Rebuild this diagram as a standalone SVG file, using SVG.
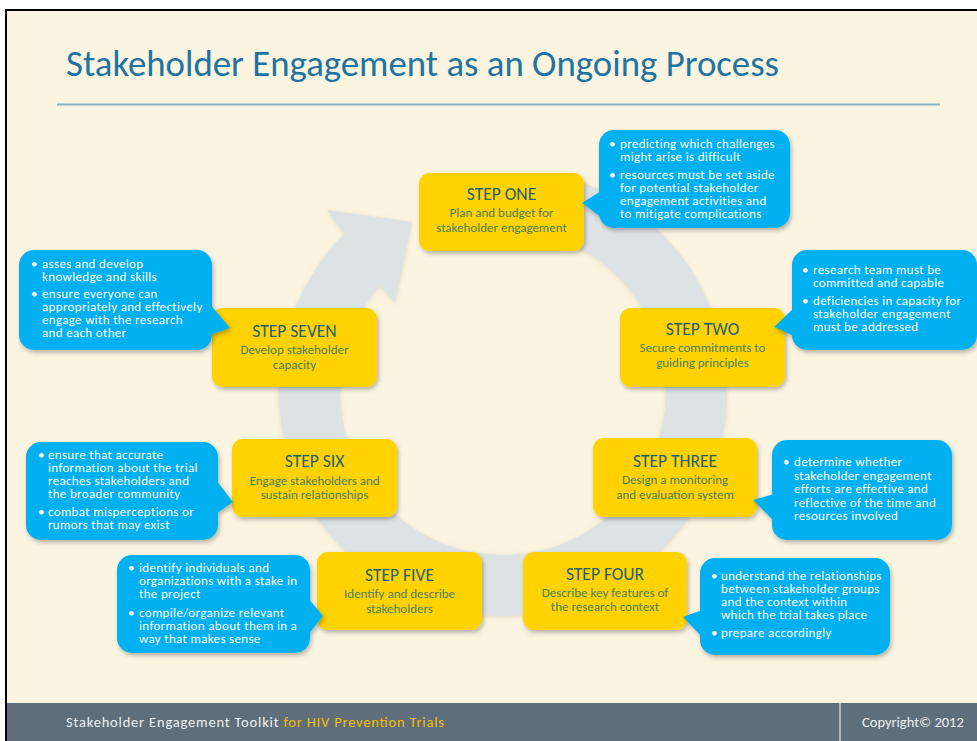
<svg xmlns="http://www.w3.org/2000/svg" width="977" height="741" viewBox="0 0 977 741">
  <defs>
    <filter id="shadow" x="-10%" y="-10%" width="125%" height="130%">
      <feDropShadow dx="1.5" dy="2.5" stdDeviation="2" flood-color="#000" flood-opacity="0.28"/>
    </filter>
    <filter id="soft" x="-10%" y="-10%" width="120%" height="120%">
      <feDropShadow dx="0" dy="1" stdDeviation="2.5" flood-color="#b9ab86" flood-opacity="0.35"/>
    </filter>
  </defs>
  <style>
    text { font-family: Carlito, Lato, "Liberation Sans", sans-serif; }
    .title { font-size: 36.8px; fill: #1f74a2; }
    .box { fill: #ffd200; }
    .step { font-size: 17.5px; fill: #25606e; text-anchor: middle; }
    .sub { font-size: 13px; fill: #4d805c; text-anchor: middle; }
    .note { fill: #00b0f0; }
    .nt { font-size: 13px; letter-spacing: 0.33px; fill: #ffffff; }
    .foot { font-size: 14.5px; fill: #eef0f2; }
    .ring { fill: #dde2e4; }
  </style>

  <!-- page and slide frame -->
  <rect x="0" y="0" width="977" height="741" fill="#ffffff"/>
  <rect x="6" y="10" width="975" height="735" fill="#faf4e1" stroke="#000" stroke-width="2"/>

  <!-- heading -->
  <text class="title" x="66" y="76">Stakeholder Engagement as an Ongoing Process</text>
  <line x1="57" y1="104.5" x2="940" y2="104.5" stroke="#8ab4c4" stroke-width="2"/>

  <!-- circular process arrow -->
  <g id="connectors">
    <path class="ring" filter="url(#soft)" d="M561,175.6 A224,224 0 1 1 344.6,233.6 L327,210 L412,222 L395,303 L380,285.1 A163,163 0 1 0 545.2,234.6 Z"/>
  </g>

  <!-- steps -->
  <g id="step-one">
    <rect class="box" x="419" y="173" width="165" height="78" rx="11" filter="url(#shadow)"/>
    <text class="step" x="501.5" y="200">STEP ONE</text>
    <text class="sub" x="501.5" y="216.5">Plan and budget for</text>
    <text class="sub" x="501.5" y="231.5">stakeholder engagement</text>
  </g>
  <g id="step-two">
    <rect class="box" x="620" y="308" width="165" height="79" rx="11" filter="url(#shadow)"/>
    <text class="step" x="702.5" y="334.5">STEP TWO</text>
    <text class="sub" x="702.5" y="352">Secure commitments to</text>
    <text class="sub" x="702.5" y="367">guiding principles</text>
  </g>
  <g id="step-three">
    <rect class="box" x="593" y="438" width="164" height="79" rx="11" filter="url(#shadow)"/>
    <text class="step" x="675" y="466.5">STEP THREE</text>
    <text class="sub" x="675" y="484">Design a monitoring</text>
    <text class="sub" x="675" y="498.5">and evaluation system</text>
  </g>
  <g id="step-four">
    <rect class="box" x="523" y="552" width="164" height="78" rx="11" filter="url(#shadow)"/>
    <text class="step" x="605" y="580">STEP FOUR</text>
    <text class="sub" x="605" y="597">Describe key features of</text>
    <text class="sub" x="605" y="611">the research context</text>
  </g>
  <g id="step-five">
    <rect class="box" x="317" y="552" width="165" height="78" rx="11" filter="url(#shadow)"/>
    <text class="step" x="399.5" y="581">STEP FIVE</text>
    <text class="sub" x="399.5" y="598">Identify and describe</text>
    <text class="sub" x="399.5" y="612.5">stakeholders</text>
  </g>
  <g id="step-six">
    <rect class="box" x="232" y="439" width="165" height="78" rx="11" filter="url(#shadow)"/>
    <text class="step" x="314.5" y="467">STEP SIX</text>
    <text class="sub" x="314.5" y="484.5">Engage stakeholders and</text>
    <text class="sub" x="314.5" y="499">sustain relationships</text>
  </g>
  <g id="step-seven">
    <rect class="box" x="212" y="308" width="165" height="79" rx="11" filter="url(#shadow)"/>
    <text class="step" x="294.5" y="337">STEP SEVEN</text>
    <text class="sub" x="294.5" y="354">Develop stakeholder</text>
    <text class="sub" x="294.5" y="368.5">capacity</text>
  </g>

  <!-- callouts -->
  <g id="note-one">
    <g class="note" filter="url(#shadow)">
      <rect x="599" y="130" width="191" height="98" rx="15"/>
      <polygon points="601,191 582,203 601,217"/>
    </g>
    <text class="nt">
      <tspan x="609" y="148">•</tspan><tspan x="620" y="148">predicting which challenges</tspan>
      <tspan x="620" y="161">might arise is difficult</tspan>
      <tspan x="609" y="178.5">•</tspan><tspan x="620" y="178.5">resources must be set aside</tspan>
      <tspan x="620" y="191.5">for potential stakeholder</tspan>
      <tspan x="620" y="204.5">engagement activities and</tspan>
      <tspan x="620" y="217.5">to mitigate complications</tspan>
    </text>
  </g>
  <g id="note-two">
    <g class="note" filter="url(#shadow)">
      <rect x="792" y="250" width="185" height="100" rx="15"/>
      <polygon points="794,308 774,327 794,336"/>
    </g>
    <text class="nt">
      <tspan x="802" y="273.5">•</tspan><tspan x="813" y="273.5">research team must be</tspan>
      <tspan x="813" y="286.5">committed and capable</tspan>
      <tspan x="802" y="304.5">•</tspan><tspan x="813" y="304.5">deficiencies in capacity for</tspan>
      <tspan x="813" y="317.5">stakeholder engagement</tspan>
      <tspan x="813" y="330.5">must be addressed</tspan>
    </text>
  </g>
  <g id="note-three">
    <g class="note" filter="url(#shadow)">
      <rect x="772" y="440" width="180" height="100" rx="15"/>
      <polygon points="774,494 753,500 774,521"/>
    </g>
    <text class="nt">
      <tspan x="783" y="466">•</tspan><tspan x="794" y="466">determine whether</tspan>
      <tspan x="794" y="479.5">stakeholder engagement</tspan>
      <tspan x="794" y="493">efforts are effective and</tspan>
      <tspan x="794" y="506.5">reflective of the time and</tspan>
      <tspan x="794" y="520">resources involved</tspan>
    </text>
  </g>
  <g id="note-four">
    <g class="note" filter="url(#shadow)">
      <rect x="700" y="558" width="190" height="97" rx="15"/>
      <polygon points="702,610 683,617 702,637"/>
    </g>
    <text class="nt">
      <tspan x="711" y="580">•</tspan><tspan x="721" y="580">understand the relationships</tspan>
      <tspan x="721" y="593">between stakeholder groups</tspan>
      <tspan x="721" y="606">and the context within</tspan>
      <tspan x="721" y="619">which the trial takes place</tspan>
      <tspan x="711" y="637">•</tspan><tspan x="721" y="637">prepare accordingly</tspan>
    </text>
  </g>
  <g id="note-five">
    <g class="note" filter="url(#shadow)">
      <rect x="117" y="555" width="193" height="98" rx="15"/>
      <polygon points="308,598 323,616 308,635"/>
    </g>
    <text class="nt">
      <tspan x="128" y="571.5">•</tspan><tspan x="139" y="571.5">identify individuals and</tspan>
      <tspan x="139" y="584.5">organizations with a stake in</tspan>
      <tspan x="139" y="597.5">the project</tspan>
      <tspan x="128" y="617">•</tspan><tspan x="139" y="617">compile/organize relevant</tspan>
      <tspan x="139" y="630">information about them in a</tspan>
      <tspan x="139" y="643">way that makes sense</tspan>
    </text>
  </g>
  <g id="note-six">
    <g class="note" filter="url(#shadow)">
      <rect x="26" y="442" width="192" height="98" rx="15"/>
      <polygon points="216,480 233,502 216,514"/>
    </g>
    <text class="nt">
      <tspan x="38" y="458.5">•</tspan><tspan x="48" y="458.5">ensure that accurate</tspan>
      <tspan x="48" y="471.5">information about the trial</tspan>
      <tspan x="48" y="484.5">reaches stakeholders and</tspan>
      <tspan x="48" y="497.5">the broader community</tspan>
      <tspan x="38" y="515.5">•</tspan><tspan x="48" y="515.5">combat misperceptions or</tspan>
      <tspan x="48" y="528.5">rumors that may exist</tspan>
    </text>
  </g>
  <g id="note-seven">
    <g class="note" filter="url(#shadow)">
      <rect x="19" y="250" width="193" height="100" rx="15"/>
      <polygon points="210,304 230,328 210,335"/>
    </g>
    <text class="nt">
      <tspan x="31" y="267.5">•</tspan><tspan x="42" y="267.5">asses and develop</tspan>
      <tspan x="42" y="280.5">knowledge and skills</tspan>
      <tspan x="31" y="298">•</tspan><tspan x="42" y="298">ensure everyone can</tspan>
      <tspan x="42" y="311">appropriately and effectively</tspan>
      <tspan x="42" y="324">engage with the research</tspan>
      <tspan x="42" y="337">and each other</tspan>
    </text>
  </g>

  <!-- footer bar -->
  <rect x="7" y="703" width="970" height="38" fill="#5e6e7a"/>
  <line x1="840" y1="703" x2="840" y2="741" stroke="#c9ced2" stroke-width="1.5"/>
  <text class="foot" x="66" y="727" textLength="378" lengthAdjust="spacing">Stakeholder Engagement Toolkit <tspan fill="#f5bf00">for HIV Prevention Trials</tspan></text>
  <text class="foot" x="862" y="727">Copyright© 2012</text>
</svg>
